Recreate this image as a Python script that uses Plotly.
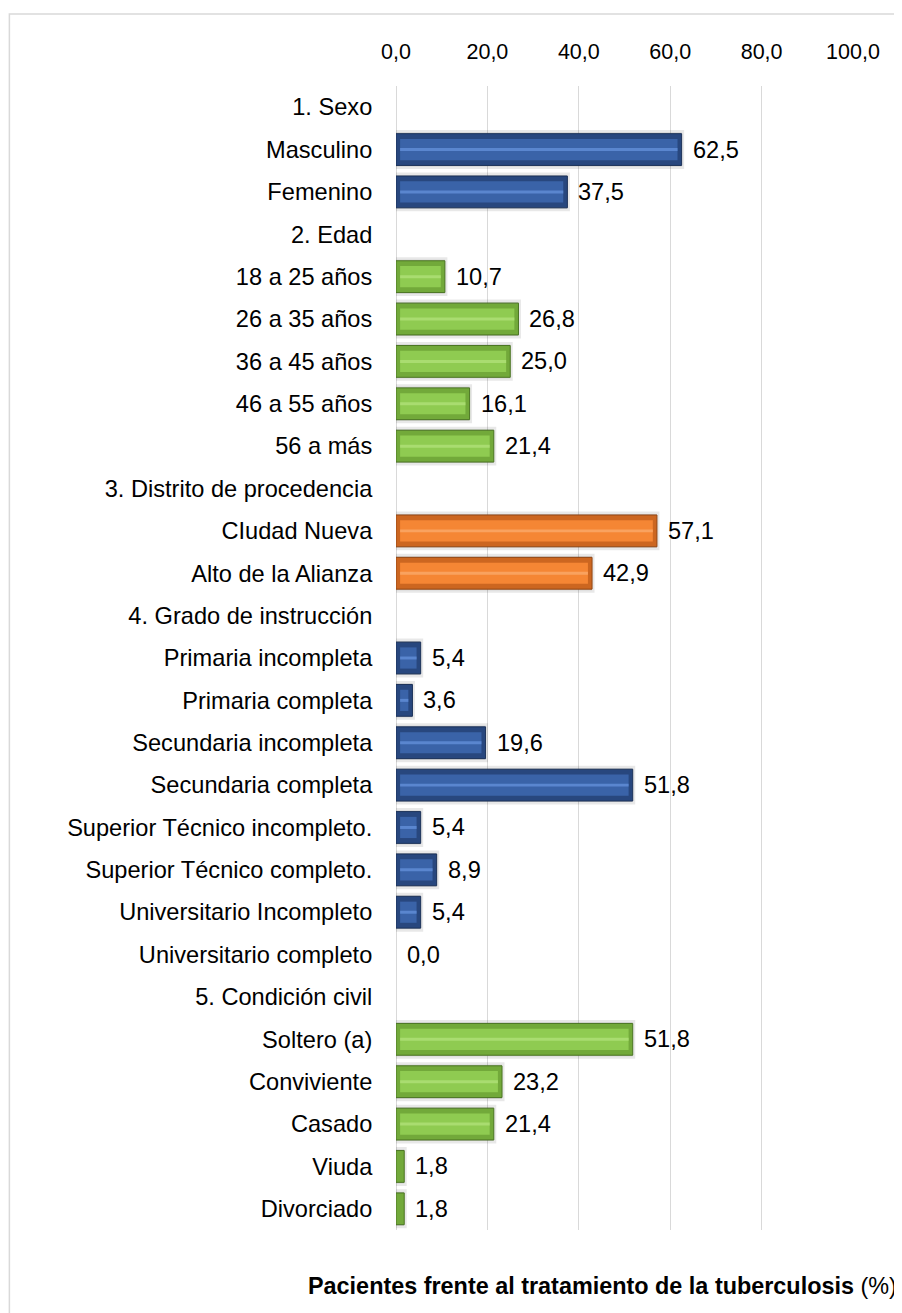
import plotly.graph_objects as go

categories = [
    "1. Sexo", "Masculino", "Femenino",
    "2. Edad", "18 a 25 años", "26 a 35 años", "36 a 45 años", "46 a 55 años", "56 a más",
    "3. Distrito de procedencia", "CIudad Nueva", "Alto de la Alianza",
    "4. Grado de instrucción", "Primaria incompleta", "Primaria completa",
    "Secundaria incompleta", "Secundaria completa", "Superior Técnico incompleto.",
    "Superior Técnico completo.", "Universitario Incompleto", "Universitario completo",
    "5. Condición civil", "Soltero (a)", "Conviviente", "Casado", "Viuda", "Divorciado",
]
values = [
    None, 62.5, 37.5,
    None, 10.7, 26.8, 25.0, 16.1, 21.4,
    None, 57.1, 42.9,
    None, 5.4, 3.6, 19.6, 51.8, 5.4, 8.9, 5.4, 0.0,
    None, 51.8, 23.2, 21.4, 1.8, 1.8,
]
groups = [
    "h", "blue", "blue",
    "h", "green", "green", "green", "green", "green",
    "h", "orange", "orange",
    "h", "blue", "blue", "blue", "blue", "blue", "blue", "blue", "blue",
    "h", "green", "green", "green", "green", "green",
]
x_ticks = [0, 20, 40, 60, 80, 100]
x_title_bold = "Pacientes frente al tratamiento de la tuberculosis"
x_title_unit = "(%)"

palette = {
    "blue":   {"frame": "#28477E", "edge": "#1C3259", "fill": "#3A63A8", "stripe": "#5A86CF"},
    "green":  {"frame": "#72A93A", "edge": "#4B7523", "fill": "#8FCB51", "stripe": "#A9DC70"},
    "orange": {"frame": "#CC6620", "edge": "#934714", "fill": "#F58634", "stripe": "#F9A25F"},
}

FONT = "Arial, 'Liberation Sans', sans-serif"
INSET = 0.9  # bevel inset (axis units)

fig = go.Figure()

bar_idx = [i for i, g in enumerate(groups) if g != "h"]
ys = [categories[i] for i in bar_idx]
xs = [values[i] for i in bar_idx]
gs = [groups[i] for i in bar_idx]
has_bar = [v > 0 for v in xs]

# shadow / glow
fig.add_trace(go.Bar(
    y=ys, x=xs, orientation="h", width=0.8,
    marker=dict(color="rgba(0,0,0,0.13)",
                line=dict(color="rgba(0,0,0,0.09)", width=[5 if h else 0 for h in has_bar])),
    hoverinfo="skip", showlegend=False,
))
# outer frame
fig.add_trace(go.Bar(
    y=ys, x=xs, orientation="h", width=0.75,
    marker=dict(color=[palette[g]["frame"] for g in gs],
                line=dict(color=[palette[g]["edge"] for g in gs],
                          width=[1 if h else 0 for h in has_bar])),
    hoverinfo="skip", showlegend=False,
))
# inner face
inner_len = [max(v - 2 * INSET, 0) for v in xs]
fig.add_trace(go.Bar(
    y=ys, x=inner_len, base=[INSET] * len(xs), orientation="h", width=0.5,
    marker=dict(color=[palette[g]["fill"] for g in gs], line=dict(width=0)),
    hoverinfo="skip", showlegend=False,
))
# highlight stripe
fig.add_trace(go.Bar(
    y=ys, x=inner_len, base=[INSET] * len(xs), orientation="h", width=0.07,
    marker=dict(color=[palette[g]["stripe"] for g in gs], line=dict(width=0)),
    hoverinfo="skip", showlegend=False,
))

# data labels
for y, v in zip(ys, xs):
    fig.add_annotation(
        x=v, y=y, xref="x", yref="y", text=f"{v:.1f}".replace(".", ","),
        showarrow=False, xanchor="left", yanchor="middle", xshift=9,
        font=dict(family=FONT, size=23.6, color="#000000"),
    )

# axis title
fig.add_annotation(
    x=-0.197, y=-0.049, xref="paper", yref="paper",
    text=f"<b>{x_title_bold}</b> {x_title_unit}", showarrow=False,
    xanchor="left", yanchor="middle",
    font=dict(family=FONT, size=23.4, color="#000000"),
)

# chart border
fig.add_shape(type="rect", xref="paper", yref="paper",
              x0=-0.846, x1=1.3, y0=-0.2, y1=1.0629,
              line=dict(color="#D9D9D9", width=1.5), fillcolor="rgba(0,0,0,0)", layer="below")

# page body has an 8px default margin; figure sized/offset to compensate
fig.update_layout(
    width=894, height=1305,
    margin=dict(l=388, r=48.5, t=78, b=83, pad=0),
    paper_bgcolor="white", plot_bgcolor="white",
    barmode="overlay",
    separators=",.",
    showlegend=False,
    font=dict(family=FONT, color="#000000"),
    xaxis=dict(
        side="top", range=[0, 100], tickvals=x_ticks, tickformat=".1f",
        showgrid=True, gridcolor="#D9D9D9", gridwidth=1,
        zeroline=True, zerolinecolor="#D9D9D9", zerolinewidth=1,
        showline=False, ticks="outside", ticklen=17, tickcolor="rgba(0,0,0,0)",
        tickfont=dict(family=FONT, size=21.5, color="#000000"), fixedrange=True,
    ),
    yaxis=dict(
        type="category", categoryorder="array", categoryarray=categories,
        tickvals=categories, range=[len(categories) - 0.5, -0.5],
        showgrid=False, zeroline=False, showline=False,
        ticks="outside", ticklen=18, tickcolor="rgba(0,0,0,0)",
        tickfont=dict(family=FONT, size=23.6, color="#000000"), fixedrange=True,
    ),
)

fig.write_html("out.html")
